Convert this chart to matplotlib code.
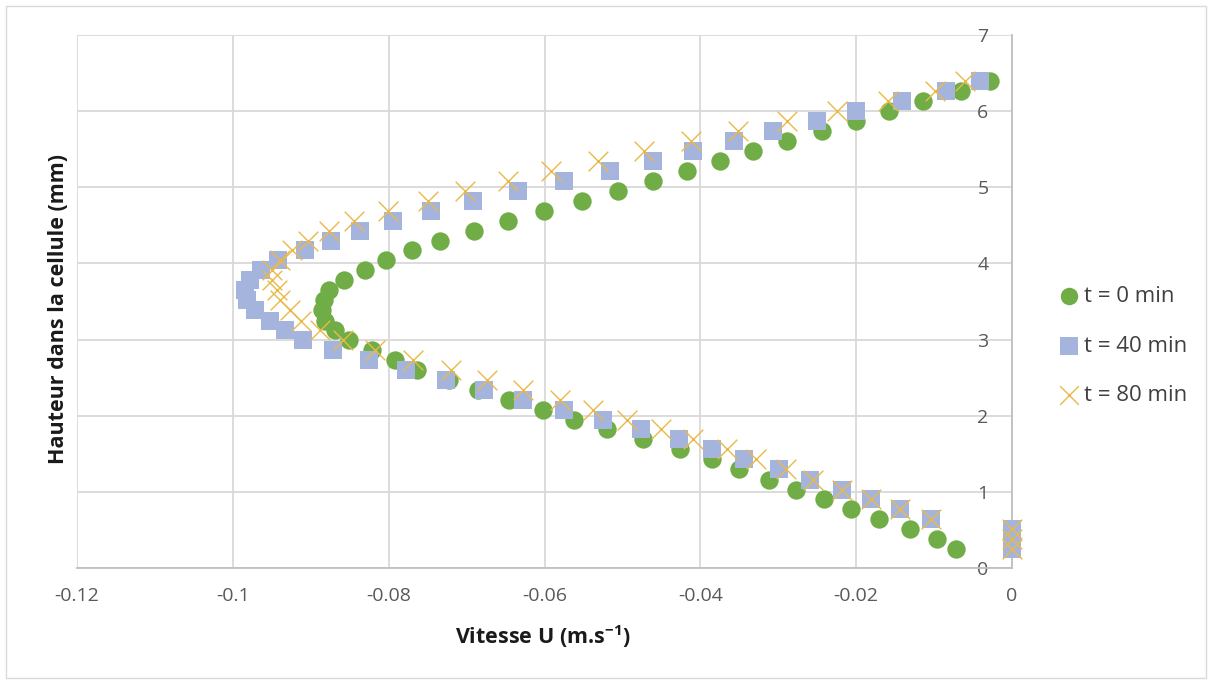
import matplotlib
matplotlib.use("Agg")
import matplotlib.pyplot as plt
from matplotlib.patches import Rectangle

plt.rcParams['font.family'] = ['Open Sans', 'DejaVu Sans']
plt.rcParams['mathtext.default'] = 'regular'

# hauteur dans la cellule (mm), commune aux trois séries
hauteur = [0.25, 0.38, 0.51, 0.64, 0.77, 0.90, 1.03, 1.16, 1.30, 1.43, 1.56, 1.69,
           1.82, 1.95, 2.08, 2.21, 2.34, 2.47, 2.60, 2.73, 2.86, 2.99, 3.12, 3.25,
           3.39, 3.52, 3.65, 3.78, 3.91, 4.04, 4.17, 4.30, 4.43, 4.56, 4.69, 4.82,
           4.95, 5.08, 5.21, 5.34, 5.48, 5.61, 5.74, 5.87, 6.00, 6.13, 6.26, 6.39]

u_0 = [-0.0072, -0.0096, -0.0131, -0.0171, -0.0207, -0.0241, -0.0277, -0.0312,
       -0.0350, -0.0385, -0.0426, -0.0474, -0.0520, -0.0562, -0.0602, -0.0646,
       -0.0685, -0.0723, -0.0764, -0.0792, -0.0821, -0.0851, -0.0869, -0.0882,
       -0.0885, -0.0883, -0.0877, -0.0857, -0.0830, -0.0803, -0.0770, -0.0734,
       -0.0690, -0.0647, -0.0601, -0.0552, -0.0506, -0.0461, -0.0417, -0.0375,
       -0.0332, -0.0289, -0.0244, -0.0200, -0.0158, -0.0114, -0.0065, -0.0028]

u_40 = [0.0, 0.0, 0.0, -0.0104, -0.0144, -0.0181, -0.0218, -0.0259,
        -0.0299, -0.0344, -0.0385, -0.0427, -0.0476, -0.0525, -0.0575, -0.0628,
        -0.0678, -0.0727, -0.0778, -0.0825, -0.0871, -0.0910, -0.0933, -0.0952,
        -0.0971, -0.0982, -0.0984, -0.0978, -0.0964, -0.0942, -0.0907, -0.0874,
        -0.0837, -0.0794, -0.0746, -0.0692, -0.0634, -0.0575, -0.0516, -0.0461,
        -0.0409, -0.0357, -0.0307, -0.0250, -0.0200, -0.0141, -0.0085, -0.0041]

u_80 = [0.0, 0.0, 0.0, -0.0104, -0.0144, -0.0181, -0.0218, -0.0256,
        -0.0290, -0.0328, -0.0366, -0.0409, -0.0450, -0.0494, -0.0538, -0.0580,
        -0.0628, -0.0674, -0.0720, -0.0769, -0.0818, -0.0859, -0.0888, -0.0912,
        -0.0927, -0.0940, -0.0943, -0.0950, -0.0950, -0.0940, -0.0924, -0.0903,
        -0.0876, -0.0845, -0.0801, -0.0749, -0.0702, -0.0647, -0.0592, -0.0531,
        -0.0472, -0.0412, -0.0352, -0.0289, -0.0225, -0.0159, -0.0099, -0.0060]

labels = ['t = 0 min', 't = 40 min', 't = 80 min']
xticks = [-0.12, -0.1, -0.08, -0.06, -0.04, -0.02, 0]
xticklabels = ['-0.12', '-0.1', '-0.08', '-0.06', '-0.04', '-0.02', '0']
yticks = [0, 1, 2, 3, 4, 5, 6, 7]

fig = plt.figure(figsize=(12.13, 6.84), dpi=100)
ax = fig.add_axes([77/1213, 1-568/684, (1012-77)/1213, (568-35)/684])

ax.scatter(u_0, hauteur, s=175, marker='o', color='#70AD47', linewidths=0,
           label=labels[0], zorder=3, clip_on=False)
ax.scatter(u_40, hauteur, s=185, marker='s', color='#A5B4DC', linewidths=0,
           label=labels[1], zorder=4, clip_on=False)
ax.scatter(u_80, hauteur, s=200, marker='x', color='#E9B945', linewidths=1.0,
           label=labels[2], zorder=5, clip_on=False)

ax.set_xlim(-0.12, 0)
ax.set_ylim(0, 7)
ax.set_xticks(xticks)
ax.set_xticklabels(xticklabels)
ax.set_yticks(yticks)
ax.grid(True, color='#D9D9D9', linewidth=1.3, zorder=0)
ax.set_axisbelow(True)

for side in ['top', 'right']:
    ax.spines[side].set_visible(False)
ax.spines['left'].set_position(('data', 0))
ax.spines['left'].set_color('#BFBFBF')
ax.spines['left'].set_linewidth(1.3)
ax.spines['bottom'].set_color('#BFBFBF')
ax.spines['bottom'].set_linewidth(1.3)

ax.tick_params(axis='y', length=0, pad=17, labelsize=14, labelcolor='#595959')
ax.tick_params(axis='x', length=0, pad=14, labelsize=14, labelcolor='#595959')

fig.text(543/1213, 1-637/684, r'Vitesse U (m.s$^{-1}$)', ha='center', va='center',
         fontsize=15.5, fontweight='bold', color='#1a1a1a')
fig.text(58/1213, 1-309/684, 'Hauteur dans la cellule (mm)', ha='center', va='center',
         rotation=90, fontsize=15.5, fontweight='bold', color='#1a1a1a')

fig.legend(loc='center left', bbox_to_anchor=(1036/1213, 1-346/684), frameon=False,
           fontsize=16, labelspacing=1.28, handletextpad=0.05, handlelength=1.2,
           markerscale=0.95, labelcolor='#404040')

fig.patches.append(Rectangle((6/1213, 6/684), 1200/1213, 672/684, transform=fig.transFigure,
                             fill=False, edgecolor='#D9D9D9', linewidth=1))

fig.savefig('out.png', dpi=100)
